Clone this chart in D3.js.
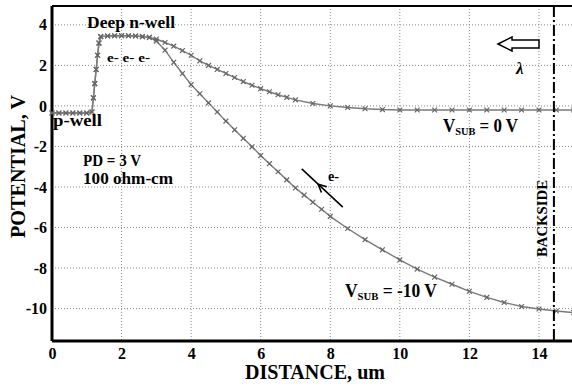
<!DOCTYPE html>
<html>
<head>
<meta charset="utf-8">
<script src="https://cdn.jsdelivr.net/npm/d3@7"></script>
<style>
    body { margin: 0; background: #fff; }
    svg text { font-family: "Liberation Serif", "Times New Roman", Times, serif !important; font-weight: bold; }
</style>
</head>
<body>
<div id="chart"></div>
<script>
// well region, shared by both curves
const wellDist = [0, 0.2, 0.4, 0.6, 0.8, 1.0, 1.15, 1.19, 1.23, 1.27, 1.31, 1.35, 1.4, 1.6, 1.8, 2.0, 2.2, 2.4, 2.6, 2.8];
const wellPot = [-0.35, -0.35, -0.35, -0.35, -0.35, -0.35, -0.3, 0.4, 1.1, 1.8, 2.5, 3.1, 3.42, 3.45, 3.46, 3.46, 3.46, 3.45, 3.42, 3.38];

// Vsub = 0 V tail
const sub0Dist = [3.0, 3.25, 3.5, 3.75, 4.0, 4.25, 4.5, 4.75, 5.0, 5.25, 5.5, 5.75, 6.0, 6.25, 6.5, 6.75, 7.0, 7.5, 8.0, 8.5, 9.0, 9.5, 10.0, 10.5, 11.0, 11.5, 12.0, 12.5, 13.0, 13.5, 14.0, 14.5, 15.0];
const sub0Pot = [3.3, 3.13, 2.95, 2.73, 2.5, 2.22, 2.0, 1.8, 1.6, 1.4, 1.2, 1.02, 0.85, 0.7, 0.55, 0.42, 0.3, 0.12, 0, -0.08, -0.14, -0.18, -0.2, -0.2, -0.2, -0.2, -0.2, -0.2, -0.2, -0.2, -0.2, -0.2, -0.2];

// Vsub = -10 V tail
const sub10Dist = [3.0, 3.25, 3.5, 3.75, 4.0, 4.25, 4.5, 4.75, 5.0, 5.25, 5.5, 5.75, 6.0, 6.25, 6.5, 6.75, 7.0, 7.25, 7.5, 7.75, 8.0, 8.5, 9.0, 9.5, 10.0, 10.5, 11.0, 11.5, 12.0, 12.5, 13.0, 13.5, 14.0, 14.5, 15.0];
const sub10Pot = [3.2, 2.75, 2.15, 1.6, 1.05, 0.6, 0.15, -0.3, -0.75, -1.18, -1.6, -2.02, -2.45, -2.85, -3.25, -3.65, -4.05, -4.4, -4.75, -5.1, -5.45, -6.05, -6.6, -7.1, -7.6, -8.05, -8.45, -8.8, -9.15, -9.45, -9.7, -9.9, -10.02, -10.12, -10.2];

const xTicks = [0, 2, 4, 6, 8, 10, 12, 14];
const yTicks = [-10, -8, -6, -4, -2, 0, 2, 4];
const backsideX = 14.43;

class PotentialVis {
    constructor(_parentElement) {
        this.parentElement = _parentElement;
        this.initVis();
    }

    // text stretched to the width it has in the scan
    label(g, x, y, size, str, w) {
        let t = g.append("text").attr("x", x).attr("y", y).attr("font-size", size + "px").text(str);
        if (w) t.attr("textLength", w).attr("lengthAdjust", "spacingAndGlyphs");
        return t;
    }

    initVis() {
        let vis = this;

        vis.width = 572;
        vis.height = 387;

        vis.svg = d3
            .select(`#${vis.parentElement}`)
            .append("svg")
            .attr("width", vis.width)
            .attr("height", vis.height);

        vis.svg.append("rect").attr("width", vis.width).attr("height", vis.height).attr("fill", "#fff");

        // Scales
        vis.x = d3.scaleLinear().domain([0, 14.95]).range([52, 572]);
        vis.y = d3.scaleLinear().domain([-11.6, 4.93]).range([341, 6]);

        // grid
        vis.svg.append("g")
            .selectAll("line")
            .data(xTicks.filter((d) => d > 0))
            .enter()
            .append("line")
            .attr("x1", (d) => vis.x(d))
            .attr("x2", (d) => vis.x(d))
            .attr("y1", vis.y.range()[1])
            .attr("y2", vis.y.range()[0])
            .attr("stroke", "#888")
            .attr("stroke-dasharray", "1,2");

        vis.svg.append("g")
            .selectAll("line")
            .data(yTicks)
            .enter()
            .append("line")
            .attr("x1", vis.x(0))
            .attr("x2", vis.width)
            .attr("y1", (d) => vis.y(d))
            .attr("y2", (d) => vis.y(d))
            .attr("stroke", "#888")
            .attr("stroke-dasharray", "1,2");

        // Axes
        vis.xAxis = d3.axisBottom(vis.x).tickValues(xTicks).tickFormat((d) => String(d)).tickSize(0).tickPadding(7);
        vis.yAxis = d3.axisLeft(vis.y).tickValues(yTicks).tickFormat((d) => String(d)).tickSize(0).tickPadding(5);

        vis.xAxisGroup = vis.svg.append("g")
            .attr("transform", "translate(0," + vis.y.range()[0] + ")")
            .call(vis.xAxis);
        vis.yAxisGroup = vis.svg.append("g")
            .attr("transform", "translate(" + vis.x(0) + ",0)")
            .call(vis.yAxis);

        [vis.xAxisGroup, vis.yAxisGroup].forEach((g) => {
            g.attr("font-family", null).attr("font-size", null);
            g.select(".domain").remove();
            g.selectAll("text")
                .style("font-size", "16px")
                .attr("fill", "#000");
        });

        // frame
        vis.svg.append("line")
            .attr("x1", vis.x(0)).attr("x2", vis.width)
            .attr("y1", vis.y.range()[0]).attr("y2", vis.y.range()[0])
            .attr("stroke", "#000").attr("stroke-width", 3);
        vis.svg.append("line")
            .attr("x1", vis.x(0)).attr("x2", vis.x(0))
            .attr("y1", vis.y.range()[1]).attr("y2", vis.y.range()[0])
            .attr("stroke", "#000").attr("stroke-width", 3);
        vis.svg.append("line")
            .attr("x1", vis.x(0)).attr("x2", vis.width)
            .attr("y1", vis.y.range()[1]).attr("y2", vis.y.range()[1])
            .attr("stroke", "#000").attr("stroke-width", 2);

        // Axis labels
        vis.label(vis.svg, 245, 379, 20, "DISTANCE, um", 140);

        vis.label(vis.svg.append("g").attr("transform", "rotate(-90)"), -238, 25, 20, "POTENTIAL, V", 143);

        vis.wrangleData();
    }

    wrangleData() {
        let vis = this;

        let well = wellDist.map((d, i) => ({ x: d, v: wellPot[i] }));
        vis.displayData = [
            well.concat(sub0Dist.map((d, i) => ({ x: d, v: sub0Pot[i] }))),
            well.concat(sub10Dist.map((d, i) => ({ x: d, v: sub10Pot[i] }))),
        ];

        vis.updateVis();
    }

    updateVis() {
        let vis = this;

        let line = d3.line()
            .x((d) => vis.x(d.x))
            .y((d) => vis.y(d.v));

        let plot = vis.svg.append("g");

        plot.selectAll("path.curve")
            .data(vis.displayData)
            .enter()
            .append("path")
            .attr("class", "curve")
            .attr("d", line)
            .attr("fill", "none")
            .attr("stroke", "#7a7a7a")
            .attr("stroke-width", 1.4);

        // cross markers
        let s = 2.4;
        plot.selectAll("g.series")
            .data(vis.displayData)
            .enter()
            .append("g")
            .attr("class", "series")
            .selectAll("path")
            .data((d) => d)
            .enter()
            .append("path")
            .attr("transform", (d) => `translate(${vis.x(d.x)},${vis.y(d.v)})`)
            .attr("d", `M${-s},${-s}L${s},${s}M${-s},${s}L${s},${-s}`)
            .attr("stroke", "#666")
            .attr("stroke-width", 1.2);

        // backside line
        vis.svg.append("line")
            .attr("x1", vis.x(backsideX)).attr("x2", vis.x(backsideX))
            .attr("y1", vis.y.range()[1]).attr("y2", vis.y.range()[0])
            .attr("stroke", "#000")
            .attr("stroke-width", 2)
            .attr("stroke-dasharray", "11,3,2,3");

        vis.label(vis.svg.append("g").attr("transform", "translate(547,257) rotate(-90)"), 0, 0, 14, "BACKSIDE", 77);

        // annotations
        let notes = vis.svg.append("g");
        vis.label(notes, 87, 28, 16.5, "Deep n-well", 88);
        vis.label(notes, 107, 62, 12, "e- e- e-", 43);
        vis.label(notes, 53, 126, 17, "p-well", 49);
        vis.label(notes, 83, 166, 16, "PD = 3 V", 58);
        vis.label(notes, 83, 184, 16, "100 ohm-cm", 90);

        let vsub = (x, y, rest, w) => {
            let t = notes.append("text").attr("x", x).attr("y", y).attr("font-size", "18px");
            t.append("tspan").text("V");
            t.append("tspan").attr("font-size", "11px").attr("dy", 3).text("SUB");
            t.append("tspan").attr("dy", -3).text(rest);
            t.attr("textLength", w).attr("lengthAdjust", "spacingAndGlyphs");
        };
        vsub(443, 132, " = 0 V", 75);
        vsub(345, 297, " = -10 V", 92);

        // e- arrow
        let ax1 = vis.x(7.18), ay1 = vis.y(-3.11), ax2 = vis.x(8.36), ay2 = vis.y(-4.99);
        notes.append("line")
            .attr("x1", ax1).attr("y1", ay1).attr("x2", ax2).attr("y2", ay2)
            .attr("stroke", "#000").attr("stroke-width", 1.6);
        let ang = Math.atan2(ay1 - ay2, ax1 - ax2);
        let hx = ax1 + (ax2 - ax1) * 0.4, hy = ay1 + (ay2 - ay1) * 0.4;
        let hl = 9, ha = 0.45;
        notes.append("path")
            .attr("d", `M${hx - hl * Math.cos(ang - ha)},${hy - hl * Math.sin(ang - ha)}L${hx},${hy}L${hx - hl * Math.cos(ang + ha)},${hy - hl * Math.sin(ang + ha)}`)
            .attr("fill", "none").attr("stroke", "#000").attr("stroke-width", 1.6);
        vis.label(notes, 328, 181, 14, "e-", 11);

        // light arrow
        notes.append("path")
            .attr("d", "M498,44 L512,37 L512,40 L539,40 L539,48 L512,48 L512,51 Z")
            .attr("fill", "#fff").attr("stroke", "#000").attr("stroke-width", 1.5);
        notes.append("text").attr("x", 516).attr("y", 74).attr("font-size", "17px")
            .attr("font-style", "italic").text("λ");
    }
}

new PotentialVis("chart");
</script>
</body>
</html>
